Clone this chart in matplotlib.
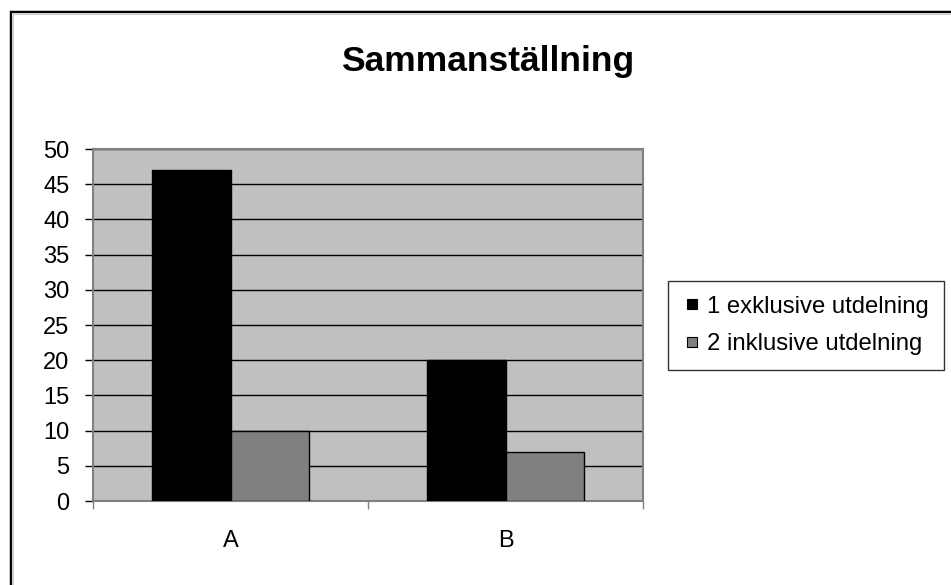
import matplotlib
matplotlib.use("Agg")
import matplotlib.pyplot as plt
from matplotlib.patches import Rectangle
from matplotlib.lines import Line2D
import numpy as np

categories = ["A", "B"]
series_names = ["1 exklusive utdelning", "2 inklusive utdelning"]
exklusive = [47, 20]
inklusive = [10, 7]
y_ticks = [0, 5, 10, 15, 20, 25, 30, 35, 40, 45, 50]
series_colors = ["black", "#808080"]

plt.rcParams["font.family"] = ["Liberation Sans", "DejaVu Sans"]

W, H = 951, 585
fig = plt.figure(figsize=(W / 100, H / 100), dpi=100)
fig.patch.set_facecolor("white")

# outer chart frame (left and top edges visible)
fig.patches.append(Rectangle((11 / W, -0.1), 1.2, (H - 12) / H + 0.1,
                             transform=fig.transFigure, fill=False,
                             edgecolor="black", linewidth=2.5, zorder=0))
fig.patches.append(Rectangle((13 / W, -0.1), 1.2, (H - 14) / H + 0.1,
                             transform=fig.transFigure, fill=False,
                             edgecolor="#d0d0d0", linewidth=1.5, zorder=0))

ax = fig.add_axes([93 / W, (H - 501) / H, 550 / W, 352 / H])
ax.set_facecolor("#c0c0c0")

x = np.arange(len(categories))
bw = 0.285
ax.bar(x - bw / 2, exklusive, bw, color=series_colors[0], edgecolor="black",
       linewidth=1, zorder=3)
ax.bar(x + bw / 2, inklusive, bw, color=series_colors[1], edgecolor="black",
       linewidth=1, zorder=3)

ax.set_xlim(-0.5, 1.5)
ax.set_ylim(0, 50)
ax.set_yticks(y_ticks)
ax.yaxis.grid(True, color="black", linewidth=1)
ax.set_axisbelow(True)

ax.set_xticks([-0.5, 0.5, 1.5])
ax.set_xticklabels([])
ax.set_xticks(x, minor=True)
ax.set_xticklabels(categories, minor=True)
ax.tick_params(axis="x", which="major", direction="out", length=6,
               width=1, color="#808080")
ax.tick_params(axis="x", which="minor", length=0, pad=21, labelsize=17)
ax.tick_params(axis="y", direction="out", length=6, width=1,
               color="black", pad=11, labelsize=17)

for side in ["top", "right", "left", "bottom"]:
    ax.spines[side].set_color("#808080")
    ax.spines[side].set_linewidth(1.5)

fig.text(488 / W, 1 - 62 / H, "Sammanställning", ha="center", va="center",
         fontsize=25.5, fontweight="bold")

handles = [Line2D([], [], linestyle="none", marker="s", markersize=7,
                  markerfacecolor=c, markeredgecolor="black",
                  markeredgewidth=0.8) for c in series_colors]
leg = ax.legend(handles, series_names, loc="center left",
                bbox_to_anchor=(668 / W, 1 - 325.5 / H),
                bbox_transform=fig.transFigure, frameon=True, fancybox=False,
                fontsize=17.2, handlelength=0.8, handletextpad=0.25,
                borderpad=0.6, labelspacing=0.65, borderaxespad=0)
leg.get_frame().set_edgecolor("black")
leg.get_frame().set_linewidth(1)

fig.savefig("out.png", dpi=100)
